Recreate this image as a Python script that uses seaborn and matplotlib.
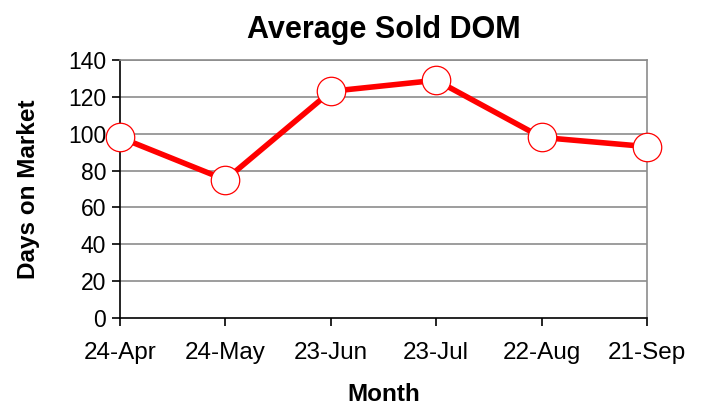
import matplotlib
matplotlib.use("Agg")
import matplotlib.pyplot as plt
import seaborn as sns
import pandas as pd

# data
months = ["24-Apr", "24-May", "23-Jun", "23-Jul", "22-Aug", "21-Sep"]
dom = [98, 75, 123, 129, 98, 93]
yticks = [0, 20, 40, 60, 80, 100, 120, 140]

sns.set_style("white")
plt.rcParams["font.family"] = ["Liberation Sans", "DejaVu Sans"]
plt.rcParams["text.color"] = "black"
plt.rcParams["axes.labelcolor"] = "black"
plt.rcParams["xtick.color"] = "black"
plt.rcParams["ytick.color"] = "black"

df = pd.DataFrame({"Month": months, "DOM": dom})

fig = plt.figure(figsize=(7.04, 4.11), dpi=100)
ax = fig.add_axes([120 / 704, 1 - 318 / 411, 527 / 704, 258 / 411])

# gray horizontal gridlines
for v in yticks[1:]:
    ax.axhline(v, color="#8c8c8c", lw=1.2, zorder=1)

sns.lineplot(data=df, x="Month", y="DOM", ax=ax, color="#ff0000", lw=4,
             marker="o", markersize=20.5, markerfacecolor="white",
             markeredgecolor="#ff0000", markeredgewidth=0.9,
             clip_on=False, zorder=5, sort=False)

ax.set_xlim(0, len(months) - 1)
ax.set_ylim(0, 140)
ax.set_yticks(yticks)
ax.set_xticks(range(len(months)))
ax.set_xticklabels(months)

for side in ["top", "right"]:
    ax.spines[side].set_color("#8c8c8c")
    ax.spines[side].set_linewidth(1.2)
for side in ["left", "bottom"]:
    ax.spines[side].set_color("black")
    ax.spines[side].set_linewidth(1.2)

ax.tick_params(axis="both", direction="out", length=6, width=1.2, color="black",
               left=True, bottom=True)
ax.tick_params(axis="y", labelsize=16.5, pad=4)
ax.tick_params(axis="x", labelsize=17.5, pad=11)

ax.set_xlabel("Month", fontsize=17.5, fontweight="bold", labelpad=14)
ax.set_ylabel("Days on Market", fontsize=17.5, fontweight="bold", labelpad=20)
ax.set_title("Average Sold DOM", fontsize=22, fontweight="bold", pad=16)

fig.savefig("out.png", dpi=100)
